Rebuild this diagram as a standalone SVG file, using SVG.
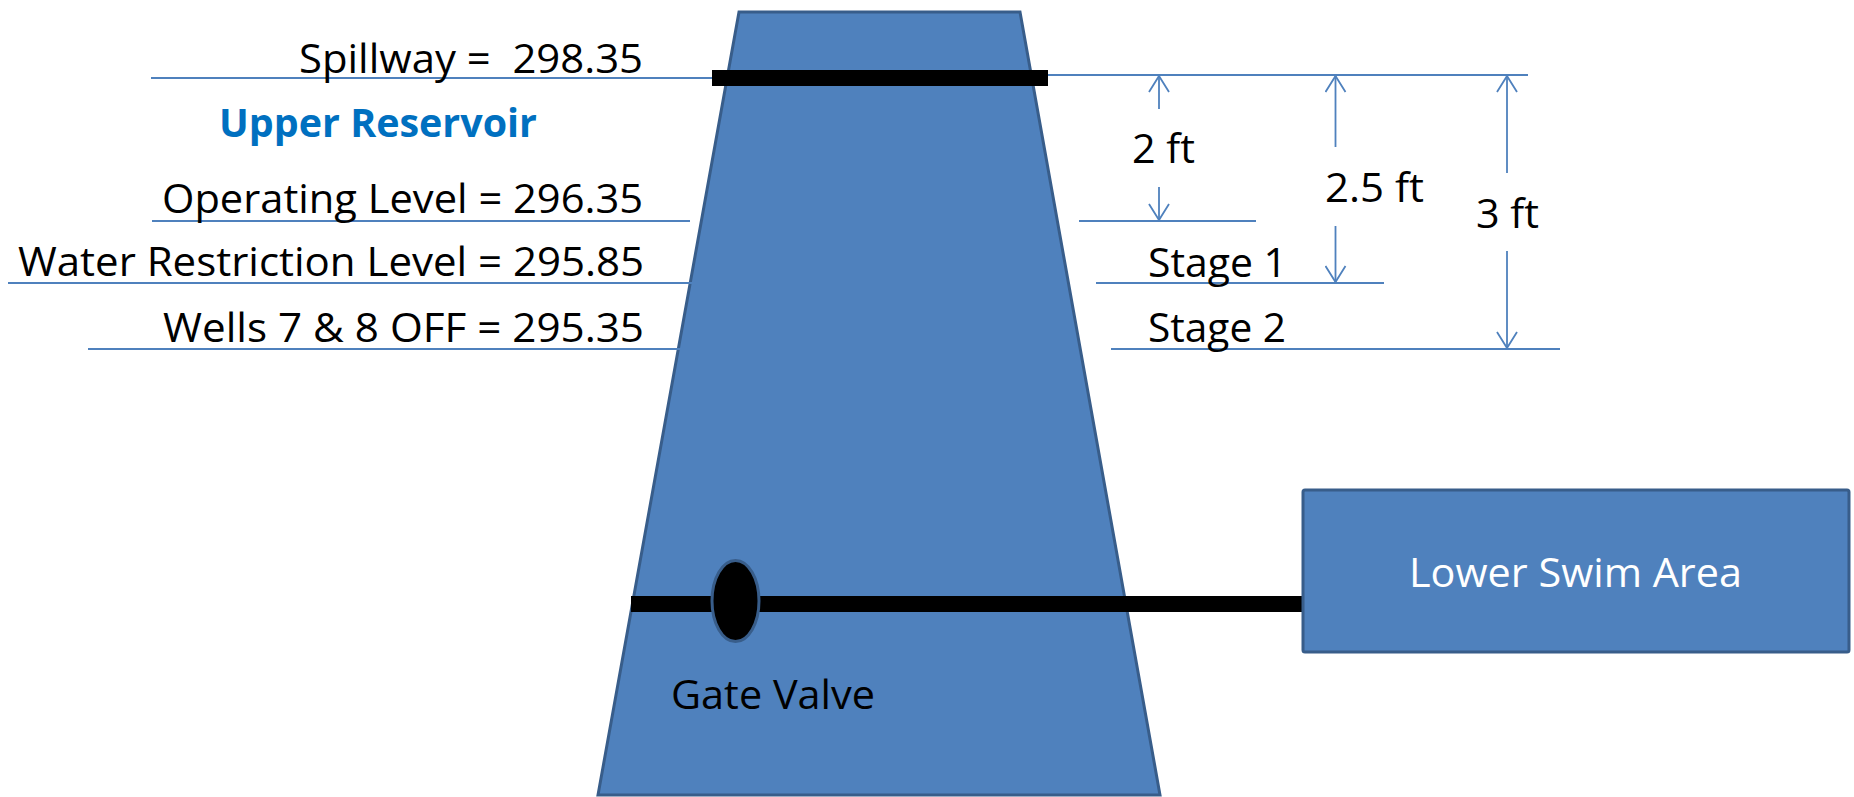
<svg xmlns="http://www.w3.org/2000/svg" width="1854" height="797" viewBox="0 0 1854 797">
<defs>
<style>
.lvl{stroke:#4F81BD;stroke-width:2.2;fill:none}
.dim{stroke:#4F81BD;stroke-width:1.8;fill:none;marker-end:url(#ah)}
.t{font-family:"Open Sans","Noto Sans",sans-serif;font-size:41px;fill:#000}
.shape{fill:#4F81BD;stroke:#385D8A;stroke-width:3}
</style>
<marker id="ah" viewBox="-1 -11 19 22" refX="16" refY="0" markerWidth="19" markerHeight="22" markerUnits="userSpaceOnUse" orient="auto">
<path d="M0,-10 L16,0 L0,10" fill="none" stroke="#4F81BD" stroke-width="1.8"/>
</marker>
</defs>
<rect width="1854" height="797" fill="#fff"/>
<g id="dam">
<polygon class="shape" points="739,12 1020,12 1160,795 598,795"/>
</g>
<g id="connectors">
<line class="lvl" x1="151" y1="78" x2="712" y2="78"/>
<line class="lvl" x1="1048" y1="75" x2="1528" y2="75"/>
<line class="lvl" x1="152" y1="221" x2="690" y2="221"/>
<line class="lvl" x1="1079" y1="221" x2="1256" y2="221"/>
<line class="lvl" x1="8" y1="283" x2="692" y2="283"/>
<line class="lvl" x1="1096" y1="283" x2="1384" y2="283"/>
<line class="lvl" x1="88" y1="349" x2="684" y2="349"/>
<line class="lvl" x1="1111" y1="349" x2="1560" y2="349"/>
<line class="dim" x1="1159" y1="109" x2="1159" y2="76"/>
<line class="dim" x1="1159" y1="187" x2="1159" y2="220"/>
<line class="dim" x1="1335.5" y1="147" x2="1335.5" y2="76"/>
<line class="dim" x1="1335.5" y1="226" x2="1335.5" y2="282"/>
<line class="dim" x1="1507" y1="173" x2="1507" y2="76"/>
<line class="dim" x1="1507" y1="251" x2="1507" y2="348"/>
</g>
<g id="spillway">
<rect x="712" y="70" width="336" height="16" fill="#000"/>
<text class="t" x="643" y="73" text-anchor="end" xml:space="preserve" textLength="344" lengthAdjust="spacingAndGlyphs">Spillway =  298.35</text>
</g>
<g id="upper-reservoir">
<text x="219" y="137" font-family="'Open Sans','Noto Sans',sans-serif" font-size="39" font-weight="bold" fill="#0070C0" textLength="318" lengthAdjust="spacingAndGlyphs">Upper Reservoir</text>
</g>
<g id="operating-level">
<text class="t" x="643" y="213" text-anchor="end" textLength="481" lengthAdjust="spacingAndGlyphs">Operating Level = 296.35</text>
</g>
<g id="water-restriction-level">
<text class="t" x="644" y="276" text-anchor="end" textLength="626" lengthAdjust="spacingAndGlyphs">Water Restriction Level = 295.85</text>
</g>
<g id="wells-off">
<text class="t" x="644" y="341.5" text-anchor="end" textLength="481" lengthAdjust="spacingAndGlyphs">Wells 7 &amp; 8 OFF = 295.35</text>
</g>
<g id="dim-2ft"><text class="t" x="1132" y="163" textLength="63" lengthAdjust="spacingAndGlyphs">2 ft</text></g>
<g id="dim-25ft"><text class="t" x="1325" y="201.5" textLength="99" lengthAdjust="spacingAndGlyphs">2.5 ft</text></g>
<g id="dim-3ft"><text class="t" x="1476" y="227.5" textLength="63" lengthAdjust="spacingAndGlyphs">3 ft</text></g>
<g id="stage1"><text class="t" x="1148" y="277" textLength="139" lengthAdjust="spacingAndGlyphs">Stage 1</text></g>
<g id="stage2"><text class="t" x="1148" y="341.5" textLength="138" lengthAdjust="spacingAndGlyphs">Stage 2</text></g>
<g id="pipe">
<rect x="631" y="596" width="673" height="16" fill="#000"/>
</g>
<g id="gate-valve">
<ellipse cx="735.5" cy="601" rx="23.5" ry="40.5" fill="#000" stroke="#385D8A" stroke-width="3"/>
<text class="t" x="671" y="709" textLength="204" lengthAdjust="spacingAndGlyphs">Gate Valve</text>
</g>
<g id="lower-swim-area">
<rect class="shape" x="1303" y="490" width="546" height="162" rx="2"/>
<text class="t" x="1409" y="587" fill="#fff" style="fill:#fff" textLength="333" lengthAdjust="spacingAndGlyphs">Lower Swim Area</text>
</g>
</svg>
